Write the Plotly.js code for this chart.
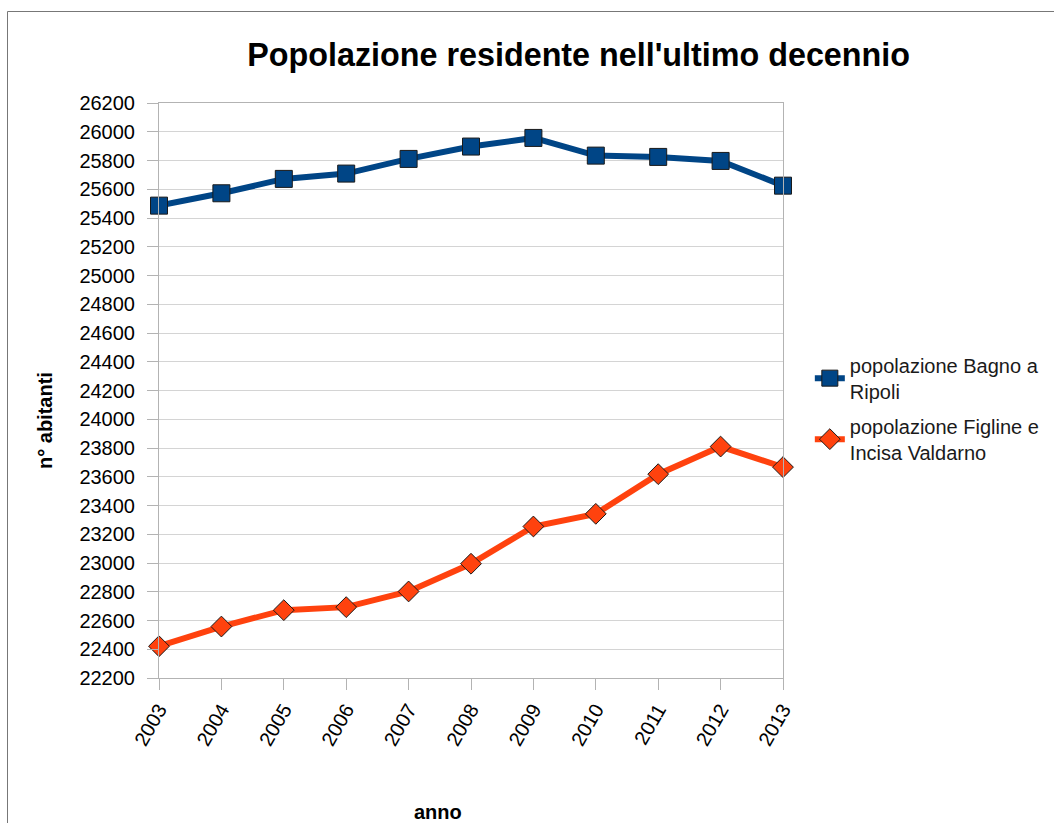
<!DOCTYPE html>
<html>
<head>
<meta charset="utf-8">
<script src="https://cdn.plot.ly/plotly-3.0.1.min.js"></script>
<style>
  html, body { margin: 0; padding: 0; background: #ffffff; }
  #chart { width: 1054px; height: 823px; }
</style>
</head>
<body>
<div id="chart"></div>
<script>
// Anni del decennio
const anni = ['2003', '2004', '2005', '2006', '2007', '2008', '2009', '2010', '2011', '2012', '2013'];

// Popolazione residente per comune
const bagnoRipoli = [25486, 25572, 25672, 25709, 25811, 25897, 25957, 25834, 25825, 25797, 25625];
const figlineIncisa = [22421, 22558, 22672, 22693, 22802, 22995, 23254, 23342, 23618, 23810, 23667];

const nomeBagno = 'popolazione Bagno a<br>Ripoli';
const nomeFigline = 'popolazione Figline e<br>Incisa Valdarno';

const FONT = 'Liberation Sans, Arial, sans-serif';
const AXIS_GREY = '#b3b3b3';
const GRID_GREY = '#d4d4d4';

const traces = [
  {
    x: anni,
    y: bagnoRipoli,
    name: nomeBagno,
    legendgroup: 'bagno',
    type: 'scatter',
    mode: 'lines+markers',
    cliponaxis: false,
    line: { color: '#004586', width: 6 },
    marker: { symbol: 'square', size: 17, color: '#004586', line: { color: '#1a1a1a', width: 1 } }
  },
  {
    x: anni,
    y: figlineIncisa,
    name: nomeFigline,
    legendgroup: 'figline',
    type: 'scatter',
    mode: 'lines+markers',
    cliponaxis: false,
    line: { color: '#ff420e', width: 6 },
    marker: { symbol: 'diamond', size: 16, color: '#ff420e', line: { color: '#1a1a1a', width: 1 } }
  }
];

const layout = {
  width: 1054,
  height: 823,
  margin: { l: 159, r: 271, t: 103, b: 145, autoexpand: false },
  paper_bgcolor: '#ffffff',
  plot_bgcolor: '#ffffff',
  font: { family: FONT, size: 20, color: '#000000' },
  showlegend: true,
  title: {
    text: "Popolazione residente nell'ultimo decennio",
    font: { family: FONT, size: 32.3, color: '#000000', weight: 'bold' },
    xref: 'container', yref: 'container',
    x: 0.549, xanchor: 'center',
    y: 0.933, yanchor: 'middle'
  },
  xaxis: {
    type: 'category',
    range: [0, 10],
    showgrid: false,
    showline: true, linecolor: AXIS_GREY, linewidth: 1, mirror: true,
    ticks: 'outside', ticklen: 11, tickcolor: AXIS_GREY, tickwidth: 1,
    tickangle: -60,
    tickfont: { family: FONT, size: 20, color: '#000000' },
    zeroline: false,
    fixedrange: true
  },
  yaxis: {
    range: [22200, 26200],
    tick0: 22200,
    dtick: 200,
    showgrid: true, gridcolor: GRID_GREY, gridwidth: 1,
    showline: true, linecolor: AXIS_GREY, linewidth: 1, mirror: true,
    ticks: 'outside', ticklen: 11, tickcolor: AXIS_GREY, tickwidth: 1,
    ticklabelstandoff: 8,
    tickfont: { family: FONT, size: 20, color: '#000000' },
    tickformat: 'd',
    zeroline: false,
    fixedrange: true
  },
  legend: {
    x: 1.043, xanchor: 'left',
    y: 0.578, yanchor: 'top',
    bgcolor: 'rgba(0,0,0,0)',
    font: { family: FONT, size: 20, color: '#1a1a1a' },
    tracegroupgap: 6,
    itemwidth: 30
  },
  annotations: [
    {
      text: 'n° abitanti',
      xref: 'paper', yref: 'paper',
      x: (45 - 159) / 624, y: (678 - 421) / 575,
      xanchor: 'center', yanchor: 'middle',
      textangle: -90,
      showarrow: false,
      font: { family: FONT, size: 20, color: '#000000', weight: 'bold' }
    },
    {
      text: 'anno',
      xref: 'paper', yref: 'paper',
      x: (438 - 159) / 624, y: (678 - 812) / 575,
      xanchor: 'center', yanchor: 'middle',
      showarrow: false,
      font: { family: FONT, size: 20, color: '#000000', weight: 'bold' }
    }
  ],
  shapes: [
    {
      type: 'rect',
      xref: 'paper', yref: 'paper',
      x0: (7.5 - 159) / 624, x1: (1070 - 159) / 624,
      y0: (678 - 840) / 575, y1: (678 - 11.5) / 575,
      line: { color: '#777777', width: 1 },
      fillcolor: 'rgba(0,0,0,0)',
      layer: 'below'
    }
  ]
};

Plotly.newPlot('chart', traces, layout, { staticPlot: true, displayModeBar: false });
</script>
</body>
</html>
